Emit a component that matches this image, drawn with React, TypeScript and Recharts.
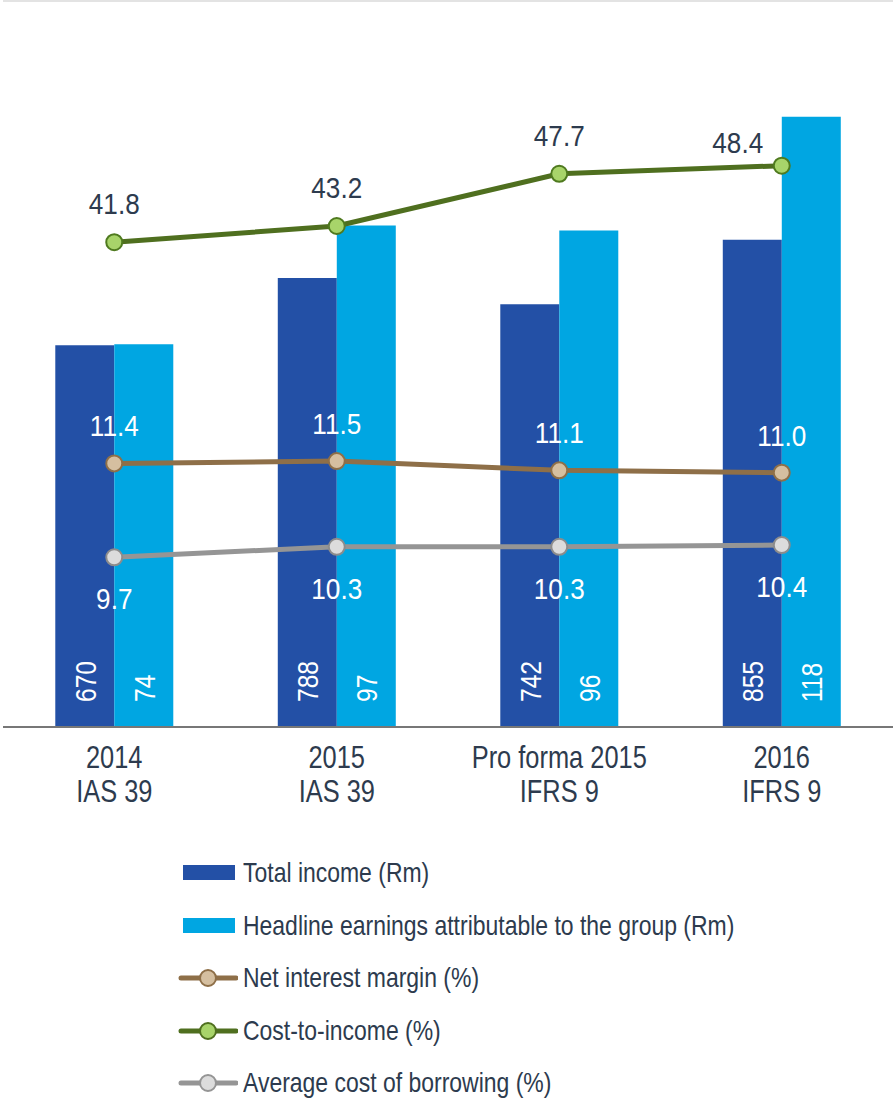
import React from 'react';
import { ComposedChart, Bar, Line, XAxis, YAxis, CartesianGrid, LabelList } from 'recharts';

const periods = ['2014', '2015', 'Pro forma 2015', '2016'];
const standards = ['IAS 39', 'IAS 39', 'IFRS 9', 'IFRS 9'];
const totalIncome = [670, 788, 742, 855];
const headlineEarnings = [74, 97, 96, 118];
const netInterestMargin = [11.4, 11.5, 11.1, 11.0];
const costToIncome = [41.8, 43.2, 47.7, 48.4];
const avgCostOfBorrowing = [9.7, 10.3, 10.3, 10.4];

const data = periods.map((p, i) => ({
    name: p,
    standard: standards[i],
    total: totalIncome[i],
    headline: headlineEarnings[i],
    nim: netInterestMargin[i],
    cti: costToIncome[i],
    acb: avgCostOfBorrowing[i],
}));

// narrow look: Liberation Sans squeezed horizontally
const FONT = '"Liberation Sans", Arial, sans-serif';
const SQUEEZE = 0.82;
const TEXT = '#2D3B4E';
const DARK_BLUE = '#2350A6';
const LIGHT_BLUE = '#00A6E2';

const legendItems = [
    { label: 'Total income (Rm)', type: 'bar', color: DARK_BLUE },
    { label: 'Headline earnings attributable to the group (Rm)', type: 'bar', color: LIGHT_BLUE },
    { label: 'Net interest margin (%)', type: 'line', color: '#8E6F48', fill: '#D5BFA0' },
    { label: 'Cost-to-income (%)', type: 'line', color: '#4F6F1F', fill: '#A8D46A' },
    { label: 'Average cost of borrowing (%)', type: 'line', color: '#959595', fill: '#DCDCDC' },
];

const NarrowText = ({ x, y, size, color, children, rotate = 0, anchor = 'middle', squeeze = SQUEEZE }: any) => (
    <text transform={`translate(${x}, ${y}) rotate(${rotate}) scale(${squeeze}, 1)`} textAnchor={anchor}
        fill={color} fontSize={size} fontFamily={FONT}>{children}</text>
);

const XTick = (props: any) => {
    const { x, y, payload } = props;
    const row = data[payload.index];
    return (
        <g>
            <NarrowText x={x} y={y + 33} size={31} color={TEXT}>{row.name}</NarrowText>
            <NarrowText x={x} y={y + 67} size={31} color={TEXT}>{row.standard}</NarrowText>
        </g>
    );
};

const barLabel = (props: any) => {
    const { x, y, width, height, value } = props;
    return (
        <NarrowText x={x + width / 2 + 11} y={y + height - 25} rotate={-90} anchor="start" size={30} color="#fff">
            {value}
        </NarrowText>
    );
};

const pointLabel = (dy: number, color: string) => (props: any) => {
    const { x, y, value, index } = props;
    // last cost-to-income label sits up-left of its point, clear of the tall bar
    const shifted = color === TEXT && index === data.length - 1;
    return (
        <NarrowText x={x + (shifted ? -44 : 0)} y={y + (shifted ? -13 : dy)} size={30} color={color} squeeze={0.87}>
            {Number(value).toFixed(1)}
        </NarrowText>
    );
};

const App = () => {
    return (
        <div style={{ position: 'absolute', left: 0, top: 0, width: 893, height: 1098, background: '#fff' }}>
            <ComposedChart width={893} height={840} data={data} barCategoryGap="23.5%" barGap={0}
                margin={{ top: 1, right: 0, left: 3, bottom: 0 }}>
                <YAxis yAxisId="grid" domain={[0, 7]} ticks={[0, 1, 2, 3, 4, 5, 6, 7]} hide />
                <CartesianGrid yAxisId="grid" vertical={false} stroke="#E3E3E3" strokeWidth={2} />
                <XAxis dataKey="name" axisLine={{ stroke: '#777', strokeWidth: 2 }} tickLine={false} height={113}
                    tick={<XTick />} interval={0} />
                <YAxis yAxisId="total" domain={[0, 1274]} width={0} tick={false} tickLine={false}
                    axisLine={{ stroke: '#777', strokeWidth: 2 }} />
                <YAxis yAxisId="headline" domain={[0, 140.4]} hide />
                <YAxis yAxisId="cti" domain={[0, 62.6]} hide />
                <YAxis yAxisId="nim" domain={[0, 31.4]} hide />
                <YAxis yAxisId="acb" domain={[0, 41.5]} hide />
                <Bar yAxisId="total" dataKey="total" fill={DARK_BLUE} isAnimationActive={false}>
                    <LabelList dataKey="total" content={barLabel} />
                </Bar>
                <Bar yAxisId="headline" dataKey="headline" fill={LIGHT_BLUE} isAnimationActive={false}>
                    <LabelList dataKey="headline" content={barLabel} />
                </Bar>
                <Line yAxisId="nim" dataKey="nim" type="linear" stroke="#8E6F48" strokeWidth={5}
                    dot={{ r: 8, fill: '#D5BFA0', stroke: '#8E6F48', strokeWidth: 2 }} activeDot={false} isAnimationActive={false}>
                    <LabelList dataKey="nim" content={pointLabel(-27, '#fff')} />
                </Line>
                <Line yAxisId="acb" dataKey="acb" type="linear" stroke="#959595" strokeWidth={5}
                    dot={{ r: 8, fill: '#DCDCDC', stroke: '#8C8C8C', strokeWidth: 2 }} activeDot={false} isAnimationActive={false}>
                    <LabelList dataKey="acb" content={pointLabel(52, '#fff')} />
                </Line>
                <Line yAxisId="cti" dataKey="cti" type="linear" stroke="#4F6F1F" strokeWidth={5}
                    dot={{ r: 8, fill: '#A8D46A', stroke: '#4F7A1F', strokeWidth: 2 }} activeDot={false} isAnimationActive={false}>
                    <LabelList dataKey="cti" content={pointLabel(-28, TEXT)} />
                </Line>
            </ComposedChart>
            <div style={{ position: 'absolute', left: 178, top: 847, fontFamily: FONT, fontSize: 28, color: TEXT }}>
                {legendItems.map((item) => (
                    <div key={item.label} style={{ display: 'flex', alignItems: 'center', height: 52.5 }}>
                        <svg width={60} height={24} style={{ flex: 'none' }}>
                            {item.type === 'bar' ? (
                                <rect x={5} y={4} width={52} height={15} fill={item.color} />
                            ) : (
                                <g>
                                    <line x1={3} y1={12} x2={58} y2={12} stroke={item.color} strokeWidth={5} strokeLinecap="round" />
                                    <circle cx={30} cy={12} r={8} fill={item.fill} stroke={item.color} strokeWidth={2} />
                                </g>
                            )}
                        </svg>
                        <span style={{ marginLeft: 5, whiteSpace: 'nowrap', display: 'inline-block',
                            transform: `scaleX(${SQUEEZE})`, transformOrigin: 'left center' }}>{item.label}</span>
                    </div>
                ))}
            </div>
        </div>
    );
};

export default App;
